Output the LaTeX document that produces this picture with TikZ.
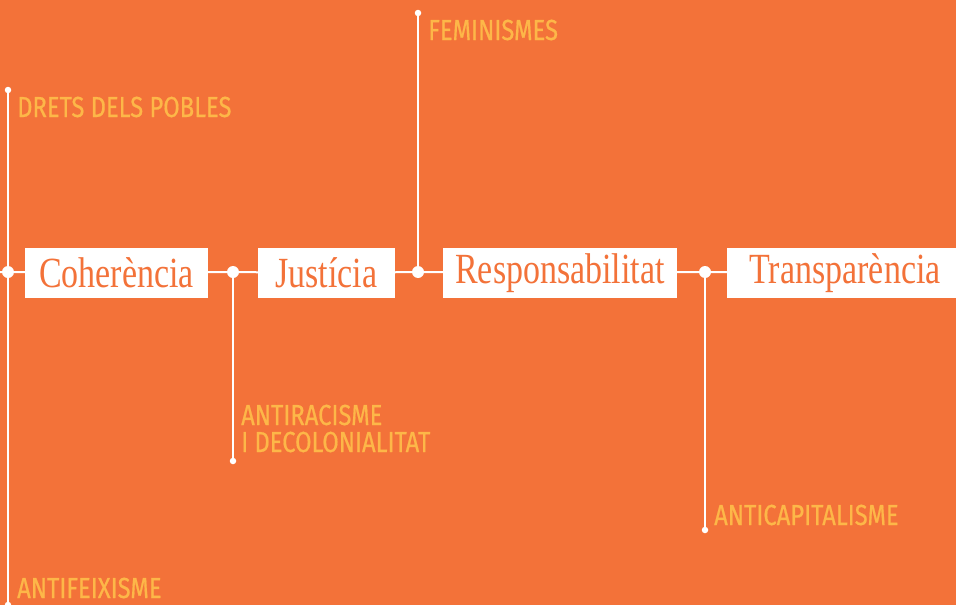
\documentclass[tikz,border=0pt]{standalone}
\usepackage{fontspec}
\setmainfont{Liberation Serif}
\newfontfamily\boxfont[FakeStretch=0.79]{Liberation Serif}
\newfontfamily\labfont[FakeStretch=0.82,FakeBold=0.6]{Fira Sans}
\definecolor{bgor}{HTML}{F37239}
\definecolor{labcol}{HTML}{FDB748}
\tikzset{
  conn/.style={draw=white, line width=2pt},
  bigdot/.style={circle, fill=white, inner sep=0pt, minimum size=12pt},
  smalldot/.style={circle, fill=white, inner sep=0pt, minimum size=6.5pt},
  valbox/.style={fill=white, inner sep=0pt, minimum height=50pt, text=bgor, font=\boxfont\fontsize{43}{43}\selectfont},
  lab/.style={anchor=base west, inner sep=0pt, text=labcol, font=\labfont\fontsize{29}{29}\selectfont}
}
\begin{document}
\begin{tikzpicture}[x=1pt,y=-1pt]
\fill[bgor] (0,0) rectangle (956,605);
\useasboundingbox (0,0) rectangle (956,605);
% dots
\coordinate (l0) at (0,272);
\node[bigdot] (d1) at (8,272) {};
\node[bigdot] (d2) at (233,272) {};
\node[bigdot] (d3) at (418,272) {};
\node[bigdot] (d4) at (705,272) {};
\node[smalldot] (t1) at (8,90) {};
\node[smalldot] (b1) at (8,605) {};
\node[smalldot] (b2) at (233,461) {};
\node[smalldot] (t3) at (418,13) {};
\node[smalldot] (b4) at (705,530) {};
% boxes
\node[valbox, minimum width=183pt] (coh) at (116.5,273) {Coherència};
\node[valbox, minimum width=137pt] (jus) at (326.5,273) {Justícia};
\node[valbox, minimum width=234pt] (res) at (560,273) {Responsabilitat};
\node[valbox, minimum width=236pt] (tra) at (845,273) {Transparència};
% connectors
\draw[conn] (l0) -- (d1) -- (coh);
\draw[conn] (coh) -- (d2) -- (jus);
\draw[conn] (jus) -- (d3) -- (res);
\draw[conn] (res) -- (d4) -- (tra);
\draw[conn] (t1) -- (d1) -- (b1);
\draw[conn] (d2) -- (b2);
\draw[conn] (t3) -- (d3);
\draw[conn] (d4) -- (b4);
% labels
\node[lab] (l1) at (17,117) {DRETS DELS POBLES};
\node[lab] (l2) at (428,40) {FEMINISMES};
\node[lab] (l3) at (241,425) {ANTIRACISME};
\node[lab] (l3b) at (241,452) {I DECOLONIALITAT};
\node[lab] (l4) at (714,525) {ANTICAPITALISME};
\node[lab] (l5) at (17,598) {ANTIFEIXISME};
\end{tikzpicture}
\end{document}
